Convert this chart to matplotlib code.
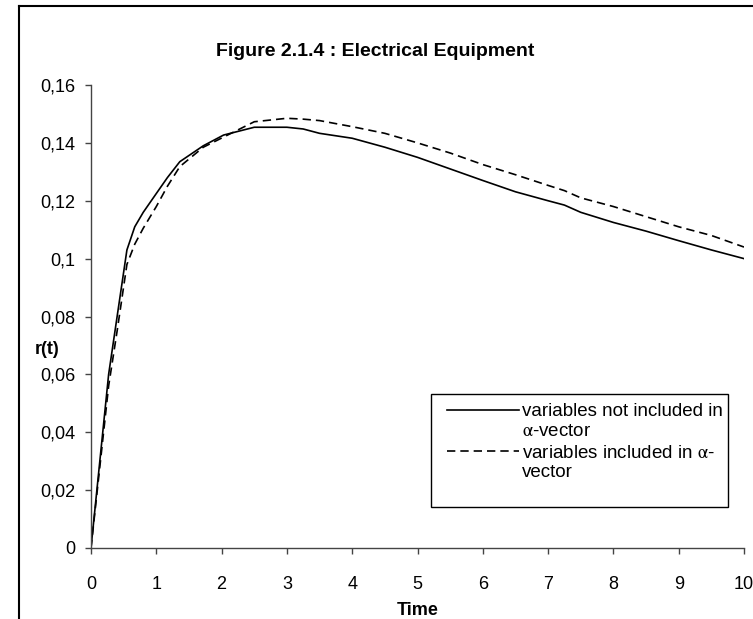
import matplotlib.pyplot as plt
from matplotlib.lines import Line2D
from matplotlib.patches import Rectangle
from matplotlib.legend_handler import HandlerLine2D

plt.rcParams['font.family'] = ['Liberation Sans', 'DejaVu Sans']
plt.rcParams['mathtext.fontset'] = 'stix'

# data
time = [0, 0.27, 0.4, 0.55, 0.67, 0.8, 1.0, 1.17, 1.36, 1.72, 2.03, 2.5, 3.0,
        3.25, 3.5, 4.0, 4.5, 5.0, 5.5, 6.0, 6.5, 7.0, 7.25, 7.5, 8.0, 8.5, 9.0, 9.5, 10]
r_not_incl = [0, 0.06, 0.08, 0.103, 0.111, 0.116, 0.1225, 0.128, 0.1335,
              0.139, 0.1427, 0.1454, 0.1454, 0.1448, 0.1433, 0.1416, 0.1385, 0.135,
              0.131, 0.127, 0.1231, 0.12, 0.1185, 0.116, 0.1125, 0.1095, 0.1062,
              0.103, 0.1]
r_incl = [0, 0.056, 0.075, 0.098, 0.105, 0.1105, 0.118, 0.125, 0.1318, 0.1385,
          0.142, 0.1473, 0.1485, 0.1482, 0.1477, 0.1456, 0.1433, 0.14, 0.1365, 0.1325,
          0.129, 0.1253, 0.1235, 0.121, 0.118, 0.1145, 0.111, 0.108, 0.104]

yticks = [0, 0.02, 0.04, 0.06, 0.08, 0.1, 0.12, 0.14, 0.16]
ytick_labels = ['0', '0,02', '0,04', '0,06', '0,08', '0,1', '0,12', '0,14', '0,16']
xticks = list(range(0, 11))
labels = ['variables not included in\n$\\mathrm{\\alpha}$-vector',
          'variables included in $\\mathrm{\\alpha}$-\nvector']

FS = 13


class FirstLineHandler(HandlerLine2D):
    # put the legend line next to the first text line
    def create_artists(self, legend, orig_handle, xdescent, ydescent, width, height,
                       fontsize, trans):
        arts = super().create_artists(legend, orig_handle, xdescent, ydescent, width,
                                      height, fontsize, trans)
        for a in arts:
            a.set_ydata([y + 0.62 * fontsize for y in a.get_ydata()])
        return arts


fig = plt.figure(figsize=(7.53, 6.19), dpi=100)
ax = fig.add_axes([91 / 753, 71 / 619, 653 / 753, 463 / 619])

ax.plot(time, r_not_incl, color='black', lw=1.2, ls='-', label=labels[0])
ax.plot(time, r_incl, color='black', lw=1.2, ls=(0, (5, 3)), label=labels[1])

ax.set_xlim(0, 10)
ax.set_ylim(0, 0.16)
ax.set_xticks(xticks)
ax.set_xticklabels([str(x) for x in xticks])
ax.set_yticks(yticks)
ax.set_yticklabels(ytick_labels)

for s in ['top', 'right']:
    ax.spines[s].set_visible(False)
for s in ['left', 'bottom']:
    ax.spines[s].set_color('#444444')
    ax.spines[s].set_linewidth(1.0)
ax.tick_params(axis='both', direction='out', length=4.5, width=1.0, color='#444444',
               labelsize=FS, labelcolor='black')
ax.tick_params(axis='x', pad=16)
ax.tick_params(axis='y', pad=6.5)

ax.set_ylabel('r(t)', rotation=0, fontweight='bold', fontsize=FS, ha='center', va='center')
ax.yaxis.set_label_coords(-0.0674, 0.428)
ax.set_xlabel('Time', fontweight='bold', fontsize=FS, ha='center', va='center')
ax.xaxis.set_label_coords(0.5, -0.136)

fig.text(375.5 / 753, 1 - 51 / 619, 'Figure 2.1.4 : Electrical Equipment',
         fontsize=14, fontweight='bold', ha='center', va='center')

leg = ax.legend(loc='upper left',
                bbox_to_anchor=(438 / 753, 0, 290 / 753, 1 - 394 / 619),
                bbox_transform=fig.transFigure, frameon=False, fontsize=13.5,
                handlelength=3.8, handletextpad=0.2, borderpad=0.5, labelspacing=0.25,
                borderaxespad=0, handler_map={Line2D: FirstLineHandler()})
for t in leg.get_texts():
    t.set_linespacing(1.2)

# legend box
fig.add_artist(Rectangle((431 / 753, (619 - 507) / 619), 297 / 753, 113 / 619,
                         transform=fig.transFigure, fill=False, ec='black', lw=1.0))

# outer frame lines
fig.add_artist(Line2D([19 / 753, 19 / 753], [0, 1 - 6 / 619], color='black', lw=1.5))
fig.add_artist(Line2D([19 / 753, 1], [1 - 6 / 619, 1 - 6 / 619], color='black', lw=1.5))

fig.savefig('out.png', dpi=100)
